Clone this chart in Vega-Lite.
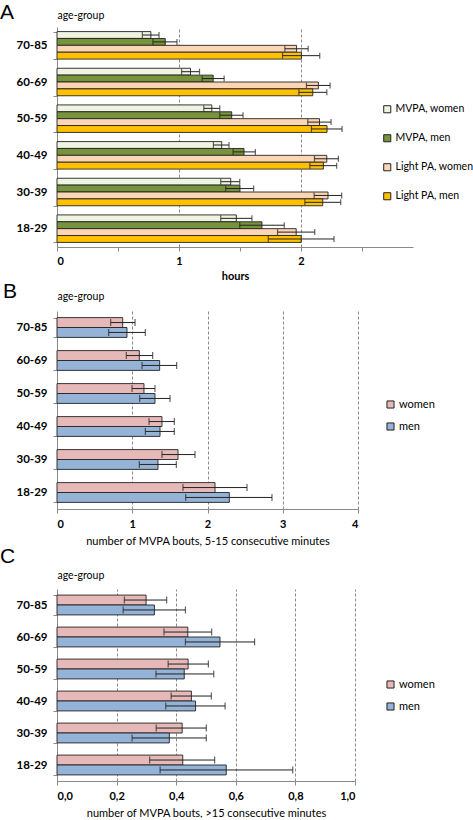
{
  "$schema": "https://vega.github.io/schema/vega-lite/v6.json",
  "padding": {"left": 0, "top": 2, "right": 0, "bottom": 0},
  "background": "white",
  "config": {
    "view": {"stroke": null},
    "font": "Lato",
    "axis": {"labelFont": "Lato", "titleFont": "Lato", "labelColor": "#000", "titleColor": "#000", "domainColor": "#8a8a8a", "tickColor": "#8a8a8a"},
    "legend": {"labelFont": "Lato", "padding": 0, "labelLimit": 200},
    "title": {"font": "Liberation Sans", "fontSize": 21, "fontWeight": "normal", "anchor": "start", "frame": "group", "color": "#000"}
  },
  "spacing": 0,
  "resolve": {"scale": {"color": "independent", "x": "independent", "y": "independent", "yOffset": "independent"}, "legend": {"color": "independent"}},
  "datasets": {
    "a": [
      {"age": "70-85", "series": "MVPA, women", "mean": 0.77, "lo": 0.70, "hi": 0.837},
      {"age": "70-85", "series": "MVPA, men", "mean": 0.888, "lo": 0.787, "hi": 0.984},
      {"age": "70-85", "series": "Light PA, women", "mean": 1.965, "lo": 1.869, "hi": 2.06},
      {"age": "70-85", "series": "Light PA, men", "mean": 2.005, "lo": 1.85, "hi": 2.155},
      {"age": "60-69", "series": "MVPA, women", "mean": 1.095, "lo": 1.022, "hi": 1.169},
      {"age": "60-69", "series": "MVPA, men", "mean": 1.281, "lo": 1.191, "hi": 1.371},
      {"age": "60-69", "series": "Light PA, women", "mean": 2.144, "lo": 2.046, "hi": 2.24},
      {"age": "60-69", "series": "Light PA, men", "mean": 2.098, "lo": 1.984, "hi": 2.213},
      {"age": "50-59", "series": "MVPA, women", "mean": 1.27, "lo": 1.204, "hi": 1.335},
      {"age": "50-59", "series": "MVPA, men", "mean": 1.433, "lo": 1.335, "hi": 1.526},
      {"age": "50-59", "series": "Light PA, women", "mean": 2.153, "lo": 2.057, "hi": 2.248},
      {"age": "50-59", "series": "Light PA, men", "mean": 2.215, "lo": 2.087, "hi": 2.338},
      {"age": "40-49", "series": "MVPA, women", "mean": 1.351, "lo": 1.283, "hi": 1.411},
      {"age": "40-49", "series": "MVPA, men", "mean": 1.534, "lo": 1.444, "hi": 1.627},
      {"age": "40-49", "series": "Light PA, women", "mean": 2.213, "lo": 2.112, "hi": 2.308},
      {"age": "40-49", "series": "Light PA, men", "mean": 2.185, "lo": 2.074, "hi": 2.294},
      {"age": "30-39", "series": "MVPA, women", "mean": 1.425, "lo": 1.343, "hi": 1.499},
      {"age": "30-39", "series": "MVPA, men", "mean": 1.501, "lo": 1.384, "hi": 1.613},
      {"age": "30-39", "series": "Light PA, women", "mean": 2.223, "lo": 2.109, "hi": 2.335},
      {"age": "30-39", "series": "Light PA, men", "mean": 2.18, "lo": 2.033, "hi": 2.327},
      {"age": "18-29", "series": "MVPA, women", "mean": 1.471, "lo": 1.343, "hi": 1.599},
      {"age": "18-29", "series": "MVPA, men", "mean": 1.681, "lo": 1.499, "hi": 1.864},
      {"age": "18-29", "series": "Light PA, women", "mean": 1.962, "lo": 1.809, "hi": 2.114},
      {"age": "18-29", "series": "Light PA, men", "mean": 2.003, "lo": 1.733, "hi": 2.272}
    ],
    "b": [
      {"age": "70-85", "sex": "women", "mean": 0.873, "lo": 0.713, "hi": 1.037},
      {"age": "70-85", "sex": "men", "mean": 0.93, "lo": 0.687, "hi": 1.174},
      {"age": "60-69", "sex": "women", "mean": 1.094, "lo": 0.921, "hi": 1.271},
      {"age": "60-69", "sex": "men", "mean": 1.364, "lo": 1.13, "hi": 1.59},
      {"age": "50-59", "sex": "women", "mean": 1.156, "lo": 0.997, "hi": 1.302},
      {"age": "50-59", "sex": "men", "mean": 1.302, "lo": 1.099, "hi": 1.502},
      {"age": "40-49", "sex": "women", "mean": 1.395, "lo": 1.223, "hi": 1.559},
      {"age": "40-49", "sex": "men", "mean": 1.369, "lo": 1.174, "hi": 1.559},
      {"age": "30-39", "sex": "women", "mean": 1.608, "lo": 1.395, "hi": 1.834},
      {"age": "30-39", "sex": "men", "mean": 1.342, "lo": 1.094, "hi": 1.586},
      {"age": "18-29", "sex": "women", "mean": 2.1, "lo": 1.674, "hi": 2.525},
      {"age": "18-29", "sex": "men", "mean": 2.29, "lo": 1.71, "hi": 2.857}
    ],
    "c": [
      {"age": "70-85", "sex": "women", "mean": 0.299, "lo": 0.226, "hi": 0.368},
      {"age": "70-85", "sex": "men", "mean": 0.327, "lo": 0.222, "hi": 0.431},
      {"age": "60-69", "sex": "women", "mean": 0.439, "lo": 0.359, "hi": 0.519},
      {"age": "60-69", "sex": "men", "mean": 0.547, "lo": 0.431, "hi": 0.663},
      {"age": "50-59", "sex": "women", "mean": 0.44, "lo": 0.373, "hi": 0.508},
      {"age": "50-59", "sex": "men", "mean": 0.427, "lo": 0.332, "hi": 0.526},
      {"age": "40-49", "sex": "women", "mean": 0.451, "lo": 0.383, "hi": 0.518},
      {"age": "40-49", "sex": "men", "mean": 0.465, "lo": 0.365, "hi": 0.564},
      {"age": "30-39", "sex": "women", "mean": 0.42, "lo": 0.333, "hi": 0.501},
      {"age": "30-39", "sex": "men", "mean": 0.377, "lo": 0.252, "hi": 0.501},
      {"age": "18-29", "sex": "women", "mean": 0.422, "lo": 0.311, "hi": 0.529},
      {"age": "18-29", "sex": "men", "mean": 0.568, "lo": 0.346, "hi": 0.791}
    ]
  },
  "vconcat": [
    {
      "width": 356,
      "height": 220,
      "title": {"text": "A", "dx": -57, "offset": -13},
      "data": {"name": "a"},
      "encoding": {
        "y": {"field": "age", "type": "nominal", "sort": ["70-85", "60-69", "50-59", "40-49", "30-39", "18-29"],
          "scale": {"paddingInner": 0.25, "paddingOuter": 0.125},
          "axis": {"title": "age-group", "titleAngle": 0, "titleX": 0, "titleY": -12, "titleAlign": "left", "titleBaseline": "middle", "titleFontSize": 10.5, "titleFontWeight": "normal",
            "labelFontSize": 11.5, "labelFontWeight": "bold", "labelPadding": 6, "tickSize": 4, "tickBand": "extent"}},
        "yOffset": {"field": "series", "sort": ["MVPA, women", "MVPA, men", "Light PA, women", "Light PA, men"], "scale": {"paddingInner": 0, "paddingOuter": 0}}
      },
      "layer": [
        {
          "mark": {"type": "bar", "stroke": "#222", "strokeWidth": 0.9},
          "encoding": {
            "x": {"field": "mean", "type": "quantitative", "scale": {"domain": [0, 2.92], "nice": false},
              "axis": {"title": "hours", "titleFontSize": 11, "titleFontWeight": "bold", "titlePadding": 4,
                "values": [0, 0.5, 1, 1.5, 2, 2.5], "labelExpr": "datum.value % 1 == 0 ? format(datum.value, 'd') : ''",
                "labelFontSize": 11, "labelFontWeight": "bold", "labelPadding": 4, "tickSize": 4,
                "grid": true, "gridDash": [3, 2], "gridColor": "#8a8a8a",
                "gridOpacity": {"condition": {"test": "datum.value % 1 == 0 && datum.value > 0", "value": 1}, "value": 0}}},
            "color": {"field": "series", "type": "nominal",
              "scale": {"domain": ["MVPA, women", "MVPA, men", "Light PA, women", "Light PA, men"], "range": ["#eef3e2", "#77933c", "#fcd5b5", "#ffc000"]},
              "legend": {"title": null, "orient": "none", "legendX": 325, "legendY": 77, "symbolType": "square", "symbolSize": 50, "symbolStrokeColor": "#222", "symbolStrokeWidth": 1, "labelFontSize": 10.5, "labelColor": "#000", "rowPadding": 17, "labelOffset": 3}}
          }
        },
        {
          "mark": {"type": "rule", "color": "#222", "strokeWidth": 1},
          "encoding": {"x": {"field": "lo", "type": "quantitative"}, "x2": {"field": "hi"}}
        },
        {
          "mark": {"type": "tick", "color": "#222", "size": 6, "thickness": 1.2},
          "encoding": {"x": {"field": "lo", "type": "quantitative"}}
        },
        {
          "mark": {"type": "tick", "color": "#222", "size": 6, "thickness": 1.2},
          "encoding": {"x": {"field": "hi", "type": "quantitative"}}
        }
      ]
    },
    {
      "width": 301,
      "height": 198,
      "title": {"text": "B", "dx": -54, "offset": -11},
      "data": {"name": "b"},
      "encoding": {
        "y": {"field": "age", "type": "nominal", "sort": ["70-85", "60-69", "50-59", "40-49", "30-39", "18-29"],
          "scale": {"paddingInner": 0.4, "paddingOuter": 0.2},
          "axis": {"title": "age-group", "titleAngle": 0, "titleX": 0, "titleY": -15, "titleAlign": "left", "titleBaseline": "middle", "titleFontSize": 10.5, "titleFontWeight": "normal",
            "labelFontSize": 11.5, "labelFontWeight": "bold", "labelPadding": 6, "tickSize": 4, "tickBand": "extent"}},
        "yOffset": {"field": "sex", "sort": ["women", "men"], "scale": {"paddingInner": 0, "paddingOuter": 0}}
      },
      "layer": [
        {
          "mark": {"type": "bar", "stroke": "#222", "strokeWidth": 0.9},
          "encoding": {
            "x": {"field": "mean", "type": "quantitative", "scale": {"domain": [0, 4], "nice": false},
              "axis": {"title": "number  of MVPA bouts, 5-15 consecutive minutes", "titleFontSize": 11, "titleFontWeight": "normal", "titlePadding": 6,
                "values": [0, 1, 2, 3, 4], "format": "d", "labelFontSize": 11, "labelFontWeight": "bold", "labelPadding": 5, "tickSize": 4,
                "grid": true, "gridDash": [3, 2], "gridColor": "#8a8a8a",
                "gridOpacity": {"condition": {"test": "datum.value > 0", "value": 1}, "value": 0}}},
            "color": {"field": "sex", "type": "nominal",
              "scale": {"domain": ["women", "men"], "range": ["#e6b9b8", "#95b3d7"]},
              "legend": {"title": null, "orient": "none", "legendX": 328, "legendY": 88, "symbolType": "square", "symbolSize": 50, "symbolStrokeColor": "#222", "symbolStrokeWidth": 1, "labelFontSize": 11, "labelColor": "#000", "rowPadding": 9, "labelOffset": 3}}
          }
        },
        {
          "mark": {"type": "rule", "color": "#222", "strokeWidth": 1},
          "encoding": {"x": {"field": "lo", "type": "quantitative"}, "x2": {"field": "hi"}}
        },
        {
          "mark": {"type": "tick", "color": "#222", "size": 7, "thickness": 1.2},
          "encoding": {"x": {"field": "lo", "type": "quantitative"}}
        },
        {
          "mark": {"type": "tick", "color": "#222", "size": 7, "thickness": 1.2},
          "encoding": {"x": {"field": "hi", "type": "quantitative"}}
        }
      ]
    },
    {
      "width": 298,
      "height": 192,
      "title": {"text": "C", "dx": -57, "offset": 3},
      "data": {"name": "c"},
      "encoding": {
        "y": {"field": "age", "type": "nominal", "sort": ["70-85", "60-69", "50-59", "40-49", "30-39", "18-29"],
          "scale": {"paddingInner": 0.38, "paddingOuter": 0.19},
          "axis": {"title": "age-group", "titleAngle": 0, "titleX": 0, "titleY": -14, "titleAlign": "left", "titleBaseline": "middle", "titleFontSize": 10.5, "titleFontWeight": "normal",
            "labelFontSize": 11.5, "labelFontWeight": "bold", "labelPadding": 6, "tickSize": 4, "tickBand": "extent"}},
        "yOffset": {"field": "sex", "sort": ["women", "men"], "scale": {"paddingInner": 0, "paddingOuter": 0}}
      },
      "layer": [
        {
          "mark": {"type": "bar", "stroke": "#222", "strokeWidth": 0.9},
          "encoding": {
            "x": {"field": "mean", "type": "quantitative", "scale": {"domain": [0, 1], "nice": false},
              "axis": {"title": "number  of MVPA bouts, >15 consecutive minutes", "titleFontSize": 11, "titleFontWeight": "normal", "titlePadding": 6,
                "values": [0, 0.2, 0.4, 0.6, 0.8, 1], "labelExpr": "replace(format(datum.value, '.1f'), '.', ',')",
                "labelFontSize": 11, "labelFontWeight": "bold", "labelPadding": 5, "tickSize": 4,
                "grid": true, "gridDash": [3, 2], "gridColor": "#8a8a8a",
                "gridOpacity": {"condition": {"test": "datum.value > 0", "value": 1}, "value": 0}}},
            "color": {"field": "sex", "type": "nominal",
              "scale": {"domain": ["women", "men"], "range": ["#e6b9b8", "#95b3d7"]},
              "legend": {"title": null, "orient": "none", "legendX": 328, "legendY": 90, "symbolType": "square", "symbolSize": 50, "symbolStrokeColor": "#222", "symbolStrokeWidth": 1, "labelFontSize": 11, "labelColor": "#000", "rowPadding": 9, "labelOffset": 3}}
          }
        },
        {
          "mark": {"type": "rule", "color": "#222", "strokeWidth": 1},
          "encoding": {"x": {"field": "lo", "type": "quantitative"}, "x2": {"field": "hi"}}
        },
        {
          "mark": {"type": "tick", "color": "#222", "size": 7, "thickness": 1.2},
          "encoding": {"x": {"field": "lo", "type": "quantitative"}}
        },
        {
          "mark": {"type": "tick", "color": "#222", "size": 7, "thickness": 1.2},
          "encoding": {"x": {"field": "hi", "type": "quantitative"}}
        }
      ]
    }
  ]
}
